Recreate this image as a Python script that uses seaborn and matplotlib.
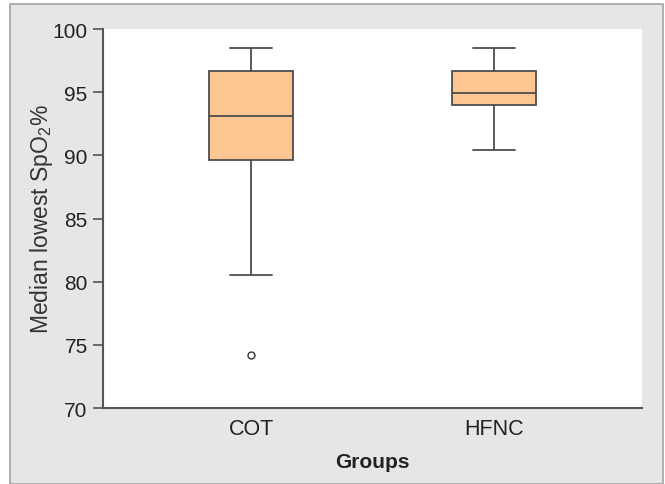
import matplotlib
matplotlib.use("Agg")
from matplotlib import pyplot as plt
from matplotlib.patches import Rectangle
import pandas as pd
import seaborn as sns

# five-number summaries
groups = ["COT", "HFNC"]
whisker_low = [80.5, 90.4]
q1 = [89.6, 94.0]
median = [93.1, 94.9]
q3 = [96.7, 96.7]
whisker_high = [98.5, 98.5]
outliers = [[74.2], []]

# build a small sample per group whose quartiles/whiskers reproduce the summary
rows = []
for i, g in enumerate(groups):
    vals = [whisker_low[i], whisker_low[i], q1[i], q1[i], median[i],
            q3[i], q3[i], whisker_high[i], whisker_high[i]]
    for k, o in enumerate(outliers[i]):
        vals[k] = o
    for v in vals:
        rows.append({"Groups": g, "value": v})
df = pd.DataFrame(rows)

sns.set_style("white")
plt.rcParams["font.family"] = ["Liberation Sans", "DejaVu Sans"]

fig = plt.figure(figsize=(6.65, 4.85), dpi=100, facecolor="white")
# grey panel behind the chart
fig.patches.append(Rectangle((10 / 665, 0), 653 / 665, 480 / 485,
                             transform=fig.transFigure, facecolor="#e5e6e8",
                             edgecolor="#a3a3a3", linewidth=1.2, zorder=-5))
ax = fig.add_axes([103 / 665, 76 / 485, 539 / 665, 379 / 485])
ax.set_facecolor("white")

line = "#4d4d4d"
sns.boxplot(data=df, x="Groups", y="value", ax=ax, width=0.343,
            color="#fdc591", saturation=1, linecolor=line, linewidth=1.3,
            flierprops=dict(marker="o", markersize=5, markerfacecolor="white",
                            markeredgecolor="#333333", markeredgewidth=1.0))

ax.set_xlim(-0.61, 1.61)
ax.set_ylim(70, 100)
ax.set_yticks([70, 75, 80, 85, 90, 95, 100])

for side in ["top", "right"]:
    ax.spines[side].set_visible(False)
for side in ["left", "bottom"]:
    ax.spines[side].set_color("#555555")
    ax.spines[side].set_linewidth(1.5)

ax.tick_params(axis="y", left=True, length=7, width=1.2, color="#555555",
               pad=4, labelsize=15, labelcolor="#222222")
ax.tick_params(axis="x", bottom=False, pad=4, labelsize=15.5, labelcolor="#222222")

ax.set_ylabel("Median lowest SpO$_\\mathregular{2}$%", fontsize=16.5,
              color="#333333", labelpad=-2)
ax.set_xlabel("Groups", fontsize=15, fontweight="bold", color="#222222",
              labelpad=9)

fig.savefig("out.png", dpi=100, facecolor=fig.get_facecolor())
